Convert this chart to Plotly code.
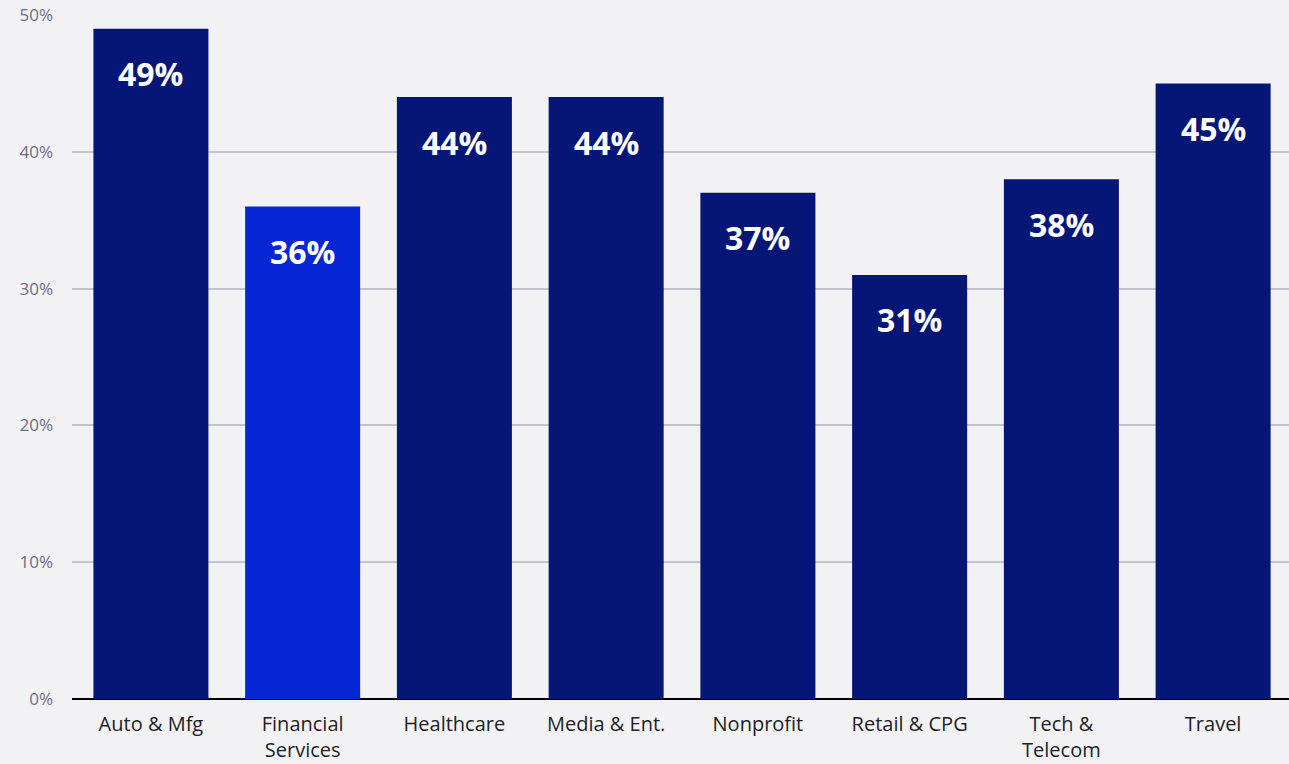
import plotly.graph_objects as go

categories = ["Auto & Mfg", "Financial<br>Services", "Healthcare", "Media & Ent.",
              "Nonprofit", "Retail & CPG", "Tech &<br>Telecom", "Travel"]
values = [49, 36, 44, 44, 37, 31, 38, 45]
highlight = "Financial<br>Services"
y_ticks = [0, 10, 20, 30, 40, 50]
y_tick_labels = ["0%", "10%", "20%", "30%", "40%", "50%"]

NAVY = "#051677"
BLUE = "#0627d3"
BG = "#f2f2f4"
FONT = "Open Sans, sans-serif"

colors = [BLUE if c == highlight else NAVY for c in categories]
xs = list(range(len(categories)))

fig = go.Figure()
fig.add_trace(go.Bar(
    x=xs, y=values, width=0.758, marker=dict(color=colors, line=dict(width=0)),
    hoverinfo="skip",
))

for x, v in zip(xs, values):
    fig.add_annotation(
        x=x, y=v, text=f"<b>{v}%</b>", showarrow=False, yshift=-45,
        font=dict(family=FONT, size=32, color="white"),
        xanchor="center", yanchor="middle",
    )

fig.update_layout(
    width=1289, height=764,
    margin=dict(l=72, r=0, t=15, b=65, autoexpand=False),
    paper_bgcolor=BG, plot_bgcolor=BG,
    showlegend=False,
    xaxis=dict(
        tickmode="array", tickvals=xs, ticktext=categories,
        range=[-0.52, 7.5], showgrid=False, zeroline=False, ticks="",
        tickfont=dict(family=FONT, size=20, color="#1e1e24"),
        ticklabelstandoff=11, automargin=False,
    ),
    yaxis=dict(
        range=[0, 50], tickmode="array", tickvals=y_ticks, ticktext=y_tick_labels,
        showgrid=True, gridcolor="#c3c2cf", gridwidth=1.5,
        zeroline=True, zerolinecolor="#000000", zerolinewidth=2,
        tickfont=dict(family=FONT, size=17, color="#6e6d85"),
        ticklabelstandoff=18, automargin=False,
    ),
)

fig.write_html("out.html")
